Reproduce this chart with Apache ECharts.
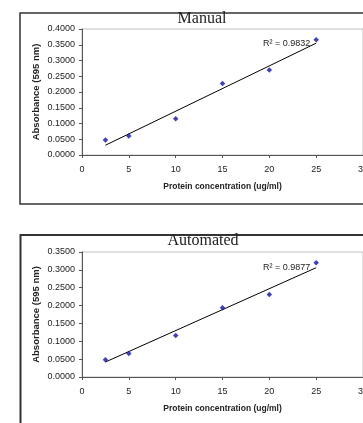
<!DOCTYPE html>
<html>
<head>
<meta charset="utf-8">
<script src="https://cdn.jsdelivr.net/npm/echarts@6/dist/echarts.min.js"></script>
<style>
  html, body { margin: 0; padding: 0; background: #fff; }
  #chart { width: 363px; height: 423px; }
</style>
</head>
<body>
<div id="chart"></div>
<script>
// protein standards, ug/ml
const conc = [2.5, 5, 10, 15, 20, 25]
// absorbance at 595 nm
const manualAbs = [0.048, 0.060, 0.115, 0.227, 0.270, 0.366]
const autoAbs = [0.048, 0.066, 0.116, 0.194, 0.231, 0.320]
// linear trendline ends as drawn (x = 2.5 and x = 25)
const trendX = [2.5, 25]
const manualTrend = [0.031, 0.355]
const autoTrend = [0.042, 0.306]
const manualR2 = '0.9832'
const autoR2 = '0.9877'
const titles = ['Manual', 'Automated']

const chart = echarts.init(document.getElementById('chart'))

const axisFont = { fontFamily: 'Liberation Sans, Arial', fontSize: 9, color: '#222' }
const nameFont = { fontFamily: 'Liberation Sans, Arial', fontWeight: 'bold', color: '#222' }

function xAxisFor(idx) {
  return {
    gridIndex: idx,
    type: 'value',
    min: 0, max: 30, interval: 5,
    name: 'Protein concentration (ug/ml)',
    nameLocation: 'middle',
    nameGap: 27,
    nameMoveOverlap: false,
    nameTextStyle: Object.assign({ fontSize: 8.5 }, nameFont),
    axisLine: { lineStyle: { color: '#555', width: 1 } },
    axisTick: { show: true, length: 3, lineStyle: { color: '#555' } },
    axisLabel: Object.assign({ margin: 10 }, axisFont),
    splitLine: { show: false }
  }
}

function yAxisFor(idx, max) {
  return {
    gridIndex: idx,
    type: 'value',
    min: 0, max: max, interval: 0.05,
    name: 'Absorbance (595 nm)',
    nameLocation: 'middle',
    nameGap: 41,
    nameMoveOverlap: false,
    nameTextStyle: Object.assign({ fontSize: 9.5 }, nameFont),
    axisLine: { show: true, lineStyle: { color: '#555', width: 1 } },
    axisTick: { show: true, length: 3, lineStyle: { color: '#555' } },
    axisLabel: Object.assign({ margin: 7, formatter: v => v.toFixed(4) }, axisFont),
    splitLine: { show: false }
  }
}

function pointSeries(idx, vals) {
  return {
    type: 'scatter',
    xAxisIndex: idx, yAxisIndex: idx,
    symbol: 'diamond',
    symbolSize: 5.5,
    itemStyle: { color: '#1212a6' },
    data: conc.map((c, i) => [c, vals[i]]),
    z: 3
  }
}

function trendSeries(idx, ends, r2) {
  return {
    type: 'line',
    xAxisIndex: idx, yAxisIndex: idx,
    showSymbol: true,
    symbol: 'circle',
    symbolSize: 0,
    lineStyle: { color: '#000', width: 1 },
    data: [
      { value: [trendX[0], ends[0]] },
      {
        value: [trendX[1], ends[1]],
        label: {
          show: true,
          position: 'left',
          distance: 6,
          formatter: 'R\u00b2 = ' + r2,
          fontFamily: 'Liberation Sans, Arial',
          fontSize: 9,
          color: '#222'
        }
      }
    ],
    z: 2
  }
}

const option = {
  animation: false,
  title: [
    { text: titles[0], left: 202, top: 11, textAlign: 'center', padding: 0,
      textStyle: { fontFamily: 'Liberation Serif, Times New Roman', fontSize: 16, fontWeight: 'normal', color: '#222' } },
    { text: titles[1], left: 203, top: 233, textAlign: 'center', padding: 0,
      textStyle: { fontFamily: 'Liberation Serif, Times New Roman', fontSize: 16, fontWeight: 'normal', color: '#222' } }
  ],
  graphic: [
    { type: 'rect', shape: { x: 20, y: 13, width: 400, height: 191 },
      style: { fill: 'none', stroke: '#333', lineWidth: 1.5 }, z: -1 },
    { type: 'rect', shape: { x: 20.5, y: 235, width: 400, height: 300 },
      style: { fill: 'none', stroke: '#333', lineWidth: 2 }, z: -1 }
  ],
  grid: [
    { left: 82, top: 29, width: 281, height: 126, show: true, borderColor: '#c0c0c0', borderWidth: 1, outerBoundsMode: 'none', containLabel: false },
    { left: 82, top: 252, width: 281, height: 125, show: true, borderColor: '#c0c0c0', borderWidth: 1, outerBoundsMode: 'none', containLabel: false }
  ],
  xAxis: [xAxisFor(0), xAxisFor(1)],
  yAxis: [yAxisFor(0, 0.4), yAxisFor(1, 0.35)],
  series: [
    pointSeries(0, manualAbs),
    trendSeries(0, manualTrend, manualR2),
    pointSeries(1, autoAbs),
    trendSeries(1, autoTrend, autoR2)
  ]
}

chart.setOption(option)
</script>
</body>
</html>
